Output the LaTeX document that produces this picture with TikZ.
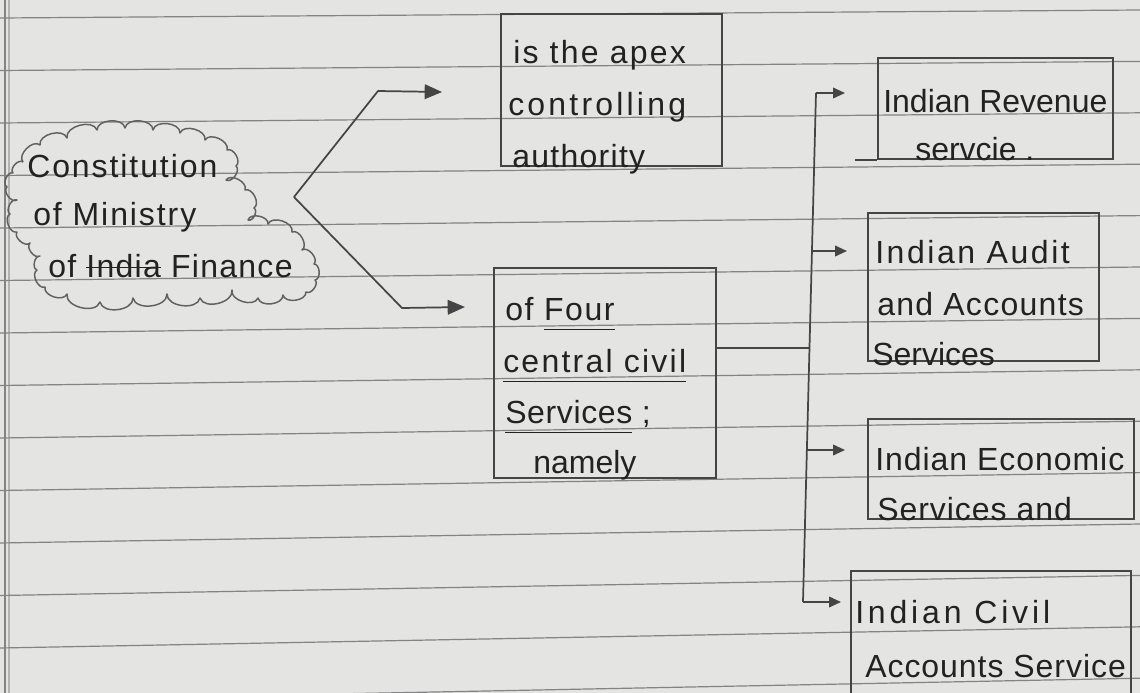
\documentclass[tikz,border=0pt]{standalone}
\usepackage{fontspec}
\setmainfont{Liberation Sans}
\usetikzlibrary{arrows.meta,calc}
\definecolor{paper}{HTML}{E4E4E2}
\definecolor{ruleclr}{HTML}{838383}
\definecolor{pencil}{HTML}{454545}
\definecolor{ink}{HTML}{222222}
\newlength\mystw
\newcommand\mystrike[1]{\settowidth{\mystw}{#1}\rlap{\rule[0.27em]{\mystw}{1pt}}#1}
\newcommand\myul[1]{\settowidth{\mystw}{#1}\rlap{\rule[-0.32em]{\mystw}{1pt}}#1}
\begin{document}
\begin{tikzpicture}[x=0.75pt,y=-0.75pt,
  ruleline/.style={draw=ruleclr,line width=0.9pt},
  box/.style={draw=pencil,line width=1.4pt,anchor=north west,inner sep=0pt},
  txt/.style={text=ink,anchor=base west,inner sep=0pt,font=\fontsize{24}{28}\selectfont\addfontfeature{LetterSpace=#1}},
  txt/.default=0,
  conn/.style={draw=pencil,line width=1.3pt,line join=round},
  arr/.style={conn,-{Triangle[length=9pt,width=8pt]}},
  bigarr/.style={conn,-{Triangle[length=13pt,width=11pt]}},
  cloudline/.style={draw=pencil!85,line width=1.1pt,line join=round}]
\clip (0,0) rectangle (1140,693);
\fill[paper] (0,0) rectangle (1140,693);
% ruled paper
\foreach \k in {0,...,13} \draw[ruleline] (0,{18+52.5*\k}) -- (1140,{10+51.4*\k});
\draw[ruleline] (5,0) -- (5,693);
\draw[ruleline,opacity=0.5] (9,0) -- (9,693);

% cloud
\draw[cloudline] (23,162) \foreach \x/\y in {40/145,67/138,97/130,125/128,153/130,180/133,205/140,227/150,236/166,226/180,245/190,254/208,248/220,268/224,292/232,302/250,314/264,315/280,306/292,283/295,258/298,232/290,200/298,167/294,133/298,100/302,67/294,45/287,37/270,40/256,30/243,17/232,10/214,17/200,7/187,13/173,23/162} { to[bend left=85] (\x,\y) };
\node[txt=6] (c1) at (27,177) {Constitution};
\node[txt=6] (c2) at (33,225) {of Ministry};
\node[txt=4] (c3) at (48,277) {of \mystrike{India} Finance};

% boxes
\node[box,minimum width=165.75pt,minimum height=114pt] (b1) at (500,13) {};
\node[box,minimum width=166.5pt,minimum height=157.5pt] (b2) at (493,267) {};
\node[box,minimum width=176.25pt,minimum height=75.75pt] (b3) at (877,57) {};
\node[box,minimum width=173.25pt,minimum height=111pt] (b4) at (867,212) {};
\node[box,minimum width=199.5pt,minimum height=75pt] (b5) at (867,418) {};
\node[box,minimum width=210pt,minimum height=105pt] (b6) at (850,570) {};
\draw[conn] (b3.south west) -- ++(-22,0);

% texts
\node[txt=7] (t11) at (513,63) {is the apex};
\node[txt=10] (t12) at (508,115) {controlling};
\node[txt=4] (t13) at (512,167) {authority};
\node[txt=5] (t21) at (505,320) {of \myul{Four}};
\node[txt=7] (t22) at (503,372) {\myul{central civil}};
\node[txt=2] (t23) at (505,423) {\myul{Services} ;};
\node[txt] (t24) at (533,473) {namely};
\node[txt] (t31) at (883,112) {Indian Revenue};
\node[txt] (t32) at (915,160) {servcie .};
\node[txt=8] (t41) at (875,263) {Indian Audit};
\node[txt=4] (t42) at (877,315) {and Accounts};
\node[txt] (t43) at (872,365) {Services};
\node[txt=3] (t51) at (875,470) {Indian Economic};
\node[txt=3] (t52) at (877,520) {Services and};
\node[txt=12] (t61) at (855,623) {Indian Civil};
\node[txt=3] (t62) at (865,677) {Accounts Service};

% connectors from cloud
\coordinate (tip) at (294,197);
\coordinate (k1) at (378,91);
\coordinate (e1) at (442,92);
\coordinate (k2) at (402,308);
\coordinate (e2) at (465,307);
\draw[bigarr] (tip) -- (k1) -- (e1);
\draw[bigarr] (tip) -- (k2) -- (e2);

% trunk
\coordinate (j) at (809,348);
\coordinate (s1) at (816,93);
\coordinate (s2) at (812,251);
\coordinate (s3) at (807,450);
\coordinate (s4) at (803,602);
\draw[conn] (b2.east |- j) -- (j);
\draw[conn] (s1) -- (s4);
\draw[arr,shorten >=24pt] (s1) -- (b3.west |- s1);
\draw[arr,shorten >=15pt] (s2) -- (b4.west |- s2);
\draw[arr,shorten >=16.5pt] (s3) -- (b5.west |- s3);
\draw[arr,shorten >=6.75pt] (s4) -- (b6.west |- s4);
\end{tikzpicture}
\end{document}
